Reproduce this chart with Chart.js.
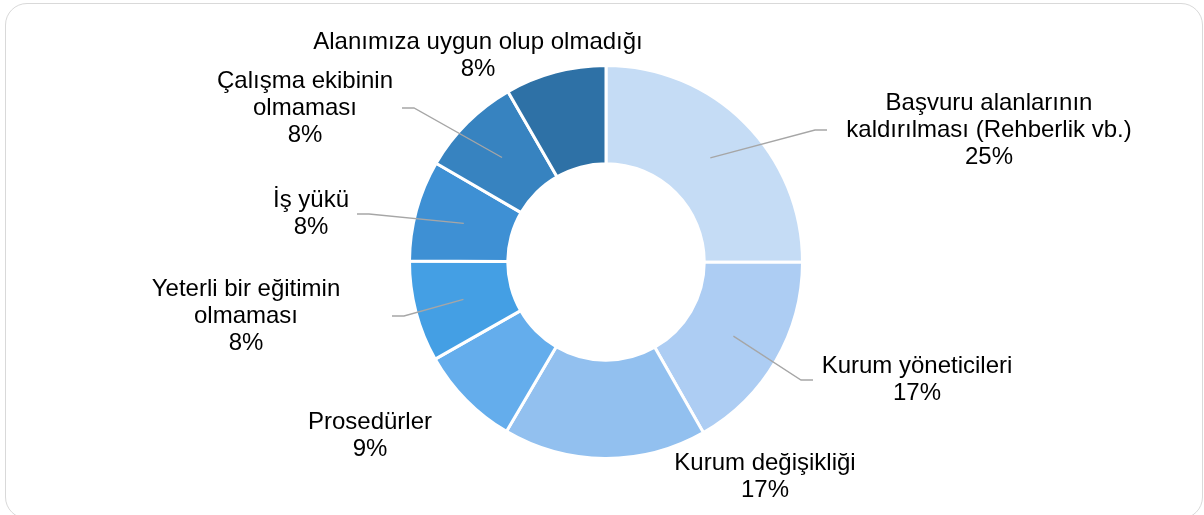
<!DOCTYPE html>
<html>
<head>
<meta charset="utf-8">
<script src="https://cdn.jsdelivr.net/npm/chart.js@4.4.1/dist/chart.umd.min.js"></script>
<style>
  html, body { margin: 0; padding: 0; background: #fff; }
  #wrap { position: relative; width: 1204px; height: 515px; overflow: hidden; }
  #frame {
    position: absolute; left: 5px; top: 3px; width: 1198px; height: 516px;
    border: 1px solid #d9d9d9; border-radius: 22px; box-sizing: border-box;
  }
  #box { position: absolute; left: 0; top: 0; width: 1204px; height: 515px; }
</style>
</head>
<body>
<div id="wrap">
  <div id="frame"></div>
  <div id="box"><canvas id="doughnut"></canvas></div>
</div>
<script>
// categories (wrapped as in the picture)
const categories = [
    ['Başvuru alanlarının', 'kaldırılması (Rehberlik vb.)'],
    ['Kurum yöneticileri'],
    ['Kurum değişikliği'],
    ['Prosedürler'],
    ['Yeterli bir eğitimin', 'olmaması'],
    ['İş yükü'],
    ['Çalışma ekibinin', 'olmaması'],
    ['Alanımıza uygun olup olmadığı']
];
// share of each slice (%)
const shares = [25, 16.7, 16.7, 8.3, 8.3, 8.3, 8.3, 8.3];
// percent text shown on the labels
const percentText = ['25%', '17%', '17%', '9%', '8%', '8%', '8%', '8%'];

const colors = ['#C5DCF5', '#ADCDF3', '#92C0EF', '#64ADEC', '#449FE4', '#3E90D4', '#3783C0', '#2E71A6'];

// label block centre, offset from the doughnut centre
const labelOffset = [[383, -132], [311, 118], [159, 215], [-236, 174], [-360, 54], [-295, -48], [-301, -154], [-128, -206]];
// x of the leader line end near the text (offset from centre), null = no leader
const leaderEnd = [221, 207, null, null, -214, -249, -204, null];

const labelPlugin = {
    id: 'outLabels',
    afterDatasetsDraw(chart) {
        const ctx = chart.ctx;
        const arcs = chart.getDatasetMeta(0).data;
        ctx.save();
        ctx.font = '24px "Liberation Sans", Arial, sans-serif';
        ctx.textAlign = 'center';
        ctx.textBaseline = 'middle';
        arcs.forEach(function (arc, i) {
            const p = arc.getProps(['x', 'y', 'startAngle', 'endAngle', 'innerRadius', 'outerRadius'], true);
            const mid = (p.startAngle + p.endAngle) / 2;
            const r = (p.innerRadius + p.outerRadius) / 2;
            const ax = p.x + Math.cos(mid) * r;
            const ay = p.y + Math.sin(mid) * r;
            const cx = p.x + labelOffset[i][0];
            const cy = p.y + labelOffset[i][1];

            // leader line
            if (leaderEnd[i] !== null) {
                const ex = p.x + leaderEnd[i];
                const bx = ex + (leaderEnd[i] > 0 ? -12 : 12);
                ctx.strokeStyle = '#A6A6A6';
                ctx.lineWidth = 1.3;
                ctx.beginPath();
                ctx.moveTo(ax, ay);
                ctx.lineTo(bx, cy);
                ctx.lineTo(ex, cy);
                ctx.stroke();
            }

            const lines = categories[i].concat([percentText[i]]);
            const lh = 27;
            ctx.fillStyle = '#000';
            lines.forEach(function (t, k) {
                ctx.fillText(t, cx, cy + (k - (lines.length - 1) / 2) * lh);
            });
        });
        ctx.restore();
    }
};

const ctx2 = document.getElementById('doughnut').getContext('2d');
const doughnut = new Chart(ctx2, {
    type: 'doughnut',
    data: {
        labels: categories,
        datasets: [{
            data: shares,
            backgroundColor: colors,
            borderColor: '#ffffff',
            borderWidth: 3
        }]
    },
    options: {
        responsive: true,
        maintainAspectRatio: false,
        animation: false,
        cutout: '50%',
        layout: { padding: { top: 64, bottom: 55, left: 300, right: 292 } },
        plugins: {
            legend: { display: false },
            tooltip: { enabled: false }
        }
    },
    plugins: [labelPlugin]
});
</script>
</body>
</html>
